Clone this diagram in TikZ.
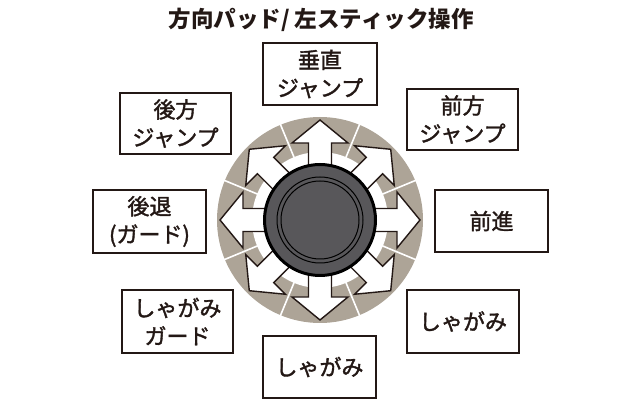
\documentclass[tikz,border=0pt]{standalone}
\usepackage{fontspec}
\usetikzlibrary{calc}
\newfontfamily\cjk[FakeBold=1.6]{Noto Sans CJK JP}
\newfontfamily\cjktitle{Noto Sans CJK JP}
\definecolor{ringgray}{HTML}{ADA497}
\definecolor{knobgray}{HTML}{58575A}
\definecolor{ink}{HTML}{231815}
\tikzset{
  labelbox/.style={draw=ink, line width=1.3pt, fill=white, rectangle, align=center,
    font=\cjk\fontsize{22}{28}\selectfont, text=ink, inner sep=0pt},
  dirarrow/.style={draw=ink, line width=1.4pt, fill=white, line join=miter},
}
\begin{document}
\begin{tikzpicture}[x=1pt,y=1pt]
\useasboundingbox (0,0) rectangle (640,404);
% title
\node[font=\cjktitle\bfseries\fontsize{22.5}{26}\selectfont, text=ink] (title) at (321,384) {方向パッド/ 左スティック操作};
% ring
\coordinate (c) at (320,184);
\fill[ringgray] (c) circle (103);
\foreach \a in {22.5,67.5,...,337.5}
  \draw[white, line width=1.6pt] ($(c)+(\a:67)$) -- ($(c)+(\a:104)$);
\fill[white] (c) circle (68);
% arrows
\foreach \a in {0,45,...,315}
  \draw[dirarrow, shift={(c)}, rotate=\a]
    (0,-11.5) -- (77,-11.5) -- (77,-28) -- (100,0) -- (77,28) -- (77,11.5) -- (0,11.5) -- cycle;
% knob
\draw[fill=knobgray, draw=black, line width=3pt] (c) circle (55.5);
\draw[black, line width=1pt] (c) circle (43);
\draw[black, line width=1pt] (c) circle (39);
% label boxes
\node[labelbox, minimum width=114pt, minimum height=62pt] (up) at (320,330) {垂直\\ジャンプ};
\node[labelbox, minimum width=111pt, minimum height=61pt] (upleft) at (175.5,280.5) {後方\\ジャンプ};
\node[labelbox, minimum width=111pt, minimum height=61pt] (upright) at (462.5,284.5) {前方\\ジャンプ};
\node[labelbox, minimum width=113pt, minimum height=63pt] (left) at (149.5,182.5) {後退\\(ガード)};
\node[labelbox, minimum width=113pt, minimum height=62pt] (right) at (491.5,183) {前進};
\node[labelbox, minimum width=111pt, minimum height=63pt] (downleft) at (177.5,82.5) {しゃがみ\\ガード};
\node[labelbox, minimum width=112pt, minimum height=63pt] (downright) at (463,82.5) {しゃがみ};
\node[labelbox, minimum width=113pt, minimum height=62pt] (down) at (319.5,37) {しゃがみ};
\end{tikzpicture}
\end{document}
